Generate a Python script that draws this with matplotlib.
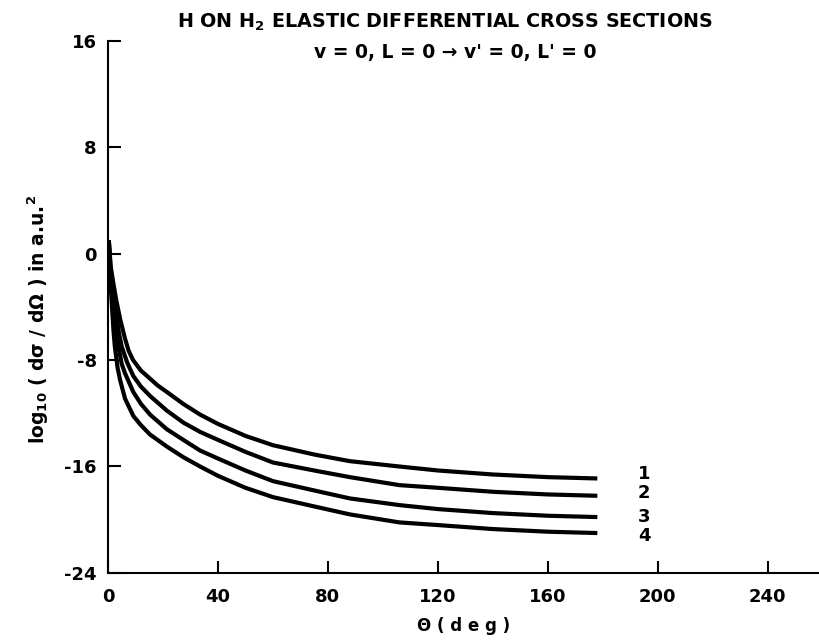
import numpy as np
import matplotlib
matplotlib.use("Agg")
import matplotlib.pyplot as plt

plt.rcParams['font.family'] = ['DejaVu Sans']
plt.rcParams['font.weight'] = 'bold'
plt.rcParams['axes.labelweight'] = 'bold'
plt.rcParams['mathtext.fontset'] = 'custom'
plt.rcParams['mathtext.rm'] = 'DejaVu Sans:bold'
plt.rcParams['mathtext.it'] = 'DejaVu Sans:bold'
plt.rcParams['mathtext.bf'] = 'DejaVu Sans:bold'
plt.rcParams['axes.unicode_minus'] = False

# angles (deg) and log10 cross sections
theta_1 = [0.3, 1, 2, 3, 4.5, 6.2, 7.5, 9.1, 12, 15.3, 18, 21.4, 27.4, 33.5, 40, 50, 60,
           75, 88, 106, 120, 140, 160, 178]
curve_1 = [1.0, -1.0, -2.3, -3.5, -5.0, -6.4, -7.3, -8.0, -8.8, -9.4, -9.9, -10.4, -11.3,
           -12.1, -12.8, -13.7, -14.4, -15.1, -15.6, -16.0, -16.3, -16.6, -16.8, -16.9]

theta_2 = [0.3, 1, 2, 3, 4, 5, 7, 9.2, 12, 15.3, 21.4, 27.4, 33.5, 40, 50, 60, 75, 88,
           106, 120, 140, 160, 178]
curve_2 = [1.0, -1.5, -3.0, -4.6, -6.0, -7.0, -8.2, -9.2, -10.0, -10.7, -11.8, -12.7, -13.4,
           -14.0, -14.9, -15.7, -16.3, -16.8, -17.4, -17.6, -17.9, -18.1, -18.2]

theta_3 = [0.3, 1, 2, 3, 3.8, 5, 6.2, 9.2, 12, 15.3, 21.4, 27.4, 33.5, 40, 50, 60, 75, 88,
           106, 120, 140, 160, 178]
curve_3 = [0.8, -2.0, -3.8, -5.8, -7.0, -8.3, -9.0, -10.4, -11.3, -12.1, -13.2, -14.0, -14.8,
           -15.4, -16.3, -17.1, -17.8, -18.4, -18.9, -19.2, -19.5, -19.7, -19.8]

theta_4 = [0.3, 1, 2, 2.5, 3.5, 4.4, 6.2, 9.2, 12, 15.3, 21.4, 27.4, 33.5, 40, 50, 60, 75,
           88, 106, 120, 140, 160, 178]
curve_4 = [0.5, -2.5, -5.8, -7.0, -8.6, -9.5, -10.9, -12.2, -12.9, -13.6, -14.5, -15.3, -16.0,
           -16.7, -17.6, -18.3, -19.0, -19.6, -20.2, -20.4, -20.7, -20.9, -21.0]

curve_names = ['1', '2', '3', '4']
label_y = [-16.6, -18.0, -19.8, -21.2]

x_ticks = [0, 40, 80, 120, 160, 200, 240]
y_ticks = [-24, -16, -8, 0, 8, 16]

fig = plt.figure(figsize=(8.2, 6.43), dpi=100)
ax = fig.add_axes([0.1317, 0.1089, 0.8683, 0.828])

for th, cv in [(theta_1, curve_1), (theta_2, curve_2), (theta_3, curve_3), (theta_4, curve_4)]:
    ax.plot(th, cv, color='black', lw=3.0, solid_capstyle='butt', solid_joinstyle='round')

for name, yy in zip(curve_names, label_y):
    ax.text(195, yy, name, fontsize=13, ha='center', va='center')

ax.set_xlim(0, 259)
ax.set_ylim(-24, 16)
ax.set_xticks(x_ticks)
ax.set_yticks(y_ticks)
ax.tick_params(direction='in', length=9, width=1.5, labelsize=13, pad=8)
ax.tick_params(axis='x', pad=11)
for s in ['top', 'right']:
    ax.spines[s].set_visible(False)
for s in ['left', 'bottom']:
    ax.spines[s].set_linewidth(1.5)

ax.set_xlabel('Θ ( d e g )', fontsize=12, labelpad=8)
ax.set_ylabel(r'log$_{10}$ ( d$\sigma$ / d$\Omega$ ) in a.u.$^2$', fontsize=13.5)
ax.yaxis.set_label_coords(-0.08, 0.476)

fig.text(0.543, 0.966, r'H ON H$_2$ ELASTIC DIFFERENTIAL CROSS SECTIONS',
         fontsize=13.8, ha='center', va='center')
fig.text(0.555, 0.919, "v = 0, L = 0 → v' = 0, L' = 0",
         fontsize=13.5, ha='center', va='center')

fig.savefig('out.png', dpi=100)
